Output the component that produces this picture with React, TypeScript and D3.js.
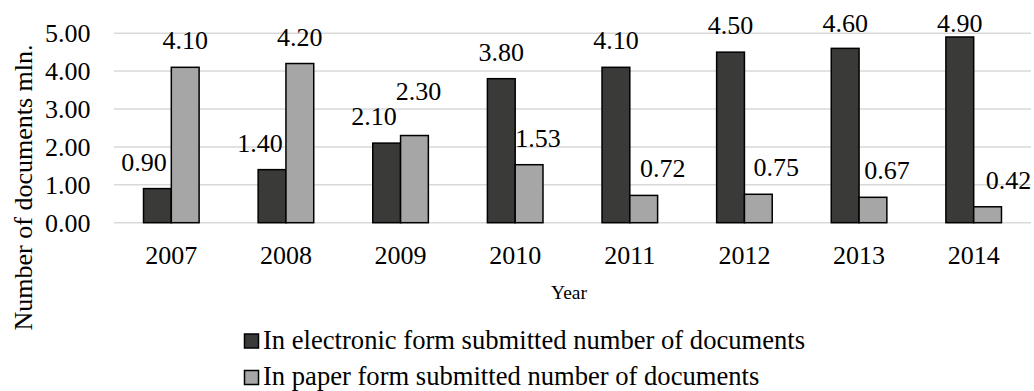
import React from "react";
import * as d3 from "d3";

const years = ["2007", "2008", "2009", "2010", "2011", "2012", "2013", "2014"];
const electronic = [0.9, 1.4, 2.1, 3.8, 4.1, 4.5, 4.6, 4.9];
const paper = [4.1, 4.2, 2.3, 1.53, 0.72, 0.75, 0.67, 0.42];
const yTicks = [0, 1, 2, 3, 4, 5];
const seriesNames = [
  "In electronic form submitted number of documents",
  "In paper form submitted number of documents",
];

// label nudges (style only)
const elecLabelDx = [-13.5, -12, -12.6, 0, 0, 0, 0, 0];
const paperLabelDx = [0, 0, 4, 9, 19, 18, 14, 21];
const paperLabelDy = [0, 0, -17.5, 0, 0, 0, 0, 0];

const W = 1034;
const H = 391;
const FONT = "'Liberation Serif', 'Times New Roman', serif";
const colors = ["#3a3a38", "#a6a6a6"];

export default function App() {
  const x = d3.scaleBand().domain(years).range([114, 1031]).padding(0);
  const bw = x.bandwidth();
  const x1 = d3
    .scaleBand()
    .domain(["e", "p"])
    .range([bw * 0.2575, bw * 0.7425])
    .padding(0);
  const y = d3.scaleLinear().domain([0, 5]).range([222.7, 33.2]);
  const fmt = d3.format(".2f");
  const series = [electronic, paper];
  const keys = ["e", "p"];

  return (
    <div style={{ position: "fixed", left: 0, top: 0 }}>
      <svg width={W} height={H} style={{ display: "block", background: "#fff" }}>
        <g fontFamily={FONT} fill="#000">
          {yTicks.map((t) => (
            <g key={t}>
              <line
                x1={114}
                x2={1031}
                y1={y(t)}
                y2={y(t)}
                stroke="#d9d9d9"
                strokeWidth={1.5}
              />
              <text x={90.5} y={y(t)} dy="0.34em" textAnchor="end" fontSize={26}>
                {fmt(t)}
              </text>
            </g>
          ))}
          {series.map((vals, si) =>
            vals.map((v, i) => (
              <rect
                key={`${si}-${i}`}
                x={(x(years[i]) as number) + (x1(keys[si]) as number)}
                y={y(v)}
                width={x1.bandwidth()}
                height={y(0) - y(v)}
                fill={colors[si]}
                stroke="#000"
                strokeWidth={1.5}
              />
            ))
          )}
          {electronic.map((v, i) => (
            <text
              key={`le${i}`}
              x={(x(years[i]) as number) + (x1("e") as number) + x1.bandwidth() / 2 + elecLabelDx[i]}
              y={Math.max(y(v) - 18, 32)}
              textAnchor="middle"
              fontSize={26}
            >
              {fmt(v)}
            </text>
          ))}
          {paper.map((v, i) => (
            <text
              key={`lp${i}`}
              x={(x(years[i]) as number) + (x1("p") as number) + x1.bandwidth() / 2 + paperLabelDx[i]}
              y={Math.max(y(v) - 18, 32) + paperLabelDy[i]}
              textAnchor="middle"
              fontSize={26}
            >
              {fmt(v)}
            </text>
          ))}
          {years.map((yr) => (
            <text
              key={yr}
              x={(x(yr) as number) + bw / 2}
              y={263.5}
              textAnchor="middle"
              fontSize={26}
            >
              {yr}
            </text>
          ))}
          <text x={569} y={298.5} textAnchor="middle" fontSize={19.5}>
            Year
          </text>
          <text
            transform={`translate(32, 187.5) rotate(-90)`}
            textAnchor="middle"
            fontSize={26}
          >
            Number of documents mln.
          </text>
          {seriesNames.map((name, i) => (
            <g key={name} transform={`translate(244.5, ${334 + i * 36.5})`}>
              <rect
                x={0}
                y={0}
                width={14}
                height={14}
                fill={colors[i]}
                stroke="#000"
                strokeWidth={1.5}
              />
              <text x={18.5} y={14.5} fontSize={26.6}>
                {name}
              </text>
            </g>
          ))}
        </g>
      </svg>
    </div>
  );
}
